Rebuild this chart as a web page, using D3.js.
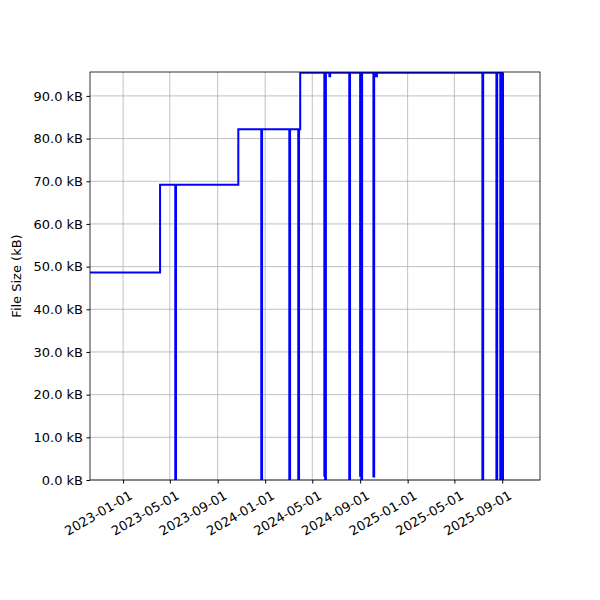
<!DOCTYPE html>
<html><head><meta charset="utf-8">
<script src="https://cdn.jsdelivr.net/npm/d3@7"></script>
<style>body{margin:0;background:#fff}text{font-family:"DejaVu Sans",sans-serif}</style>
</head><body><svg id="c" width="600" height="600"></svg>
<script>
// Step data: size (kB) from each date onward; 0 / dip values are short glitches
var dates = ["2022-10-01","2023-04-06","2023-05-15","2023-05-17","2023-05-18","2023-10-24",
  "2023-12-22","2023-12-24","2023-12-25","2024-03-03","2024-03-05","2024-03-06",
  "2024-03-26","2024-03-28","2024-03-29","2024-03-31",
  "2024-06-01","2024-06-03","2024-06-04","2024-06-03","2024-06-05","2024-06-06",
  "2024-06-14","2024-06-16","2024-08-04","2024-08-06","2024-08-07",
  "2024-09-01","2024-09-03","2024-09-04","2024-09-04","2024-09-06","2024-09-07",
  "2024-10-05","2024-10-07","2024-10-08","2024-10-12","2024-10-14",
  "2025-07-12","2025-07-14","2025-07-15","2025-08-17","2025-08-19","2025-08-20",
  "2025-08-27","2025-08-29","2025-08-30","2025-09-01","2025-09-03","2025-09-04"];
var sizes = [48.6,69.2,0,69.2,69.2,82.2,
  0,82.2,82.2,0,82.2,82.2,
  0,82.2,82.2,95.4,
  1,95.4,95.4,0,95.4,95.4,
  94.6,95.4,0,95.4,95.4,
  1,95.4,95.4,0,95.4,95.4,
  0.8,95.4,95.4,94.6,95.4,
  0,95.4,95.4,0,95.4,95.4,
  0,95.4,95.4,0,95.4,95.4];
var yTicks = [0,10,20,30,40,50,60,70,80,90];
var xTicks = ["2023-01-01","2023-05-01","2023-09-01","2024-01-01","2024-05-01","2024-09-01","2025-01-01","2025-05-01","2025-09-01"];

var parse = d3.timeParse("%Y-%m-%d"),
    margin = {top: 72, right: 60, bottom: 120, left: 90},
    width = 600 - margin.left - margin.right,
    height = 600 - margin.top - margin.bottom;

var x = d3.scaleTime().domain([parse("2022-10-08"), parse("2025-12-07")]).range([0, width]);
var y = d3.scaleLinear().domain([0, 95.6]).range([height, 0]);

var svg = d3.select("#c"),
    g = svg.append("g").attr("transform", "translate(" + margin.left + "," + margin.top + ")");

g.append("defs").append("clipPath").attr("id", "clip")
  .append("rect").attr("width", width).attr("height", height);

// grid
g.selectAll(".gx").data(xTicks).enter().append("line")
  .attr("x1", d => x(parse(d))).attr("x2", d => x(parse(d)))
  .attr("y1", 0).attr("y2", height).attr("stroke", "#b0b0b0").attr("stroke-width", 0.8);
g.selectAll(".gy").data(yTicks).enter().append("line")
  .attr("y1", d => y(d)).attr("y2", d => y(d))
  .attr("x1", 0).attr("x2", width).attr("stroke", "#b0b0b0").attr("stroke-width", 0.8);

var pts = dates.map((d, i) => [parse(d), sizes[i]]);
g.append("path").datum(pts)
  .attr("clip-path", "url(#clip)")
  .attr("fill", "none").attr("stroke", "blue").attr("stroke-width", 2)
  .attr("d", d3.line().x(d => x(d[0])).y(d => y(d[1])).curve(d3.curveStepAfter));

var fmt = d3.format(".1f");
var ya = g.append("g").call(d3.axisLeft(y).tickValues(yTicks).tickSize(3.5).tickPadding(3.5).tickFormat(d => fmt(d) + " kB"));
var xa = g.append("g").attr("transform", "translate(0," + height + ")")
  .call(d3.axisBottom(x).tickValues(xTicks.map(parse)).tickSize(3.5).tickPadding(3.5).tickFormat(d3.timeFormat("%Y-%m-%d")));
[ya, xa].forEach(a => { a.selectAll("text").attr("font-size", 13).attr("fill", "#000"); a.select(".domain").remove(); });
xa.selectAll("text").attr("text-anchor", "end").attr("dy", null).attr("y", 0)
  .attr("transform", "translate(4,8) rotate(-30)").attr("dy", "0.9em");

g.append("rect").attr("width", width).attr("height", height)
  .attr("fill", "none").attr("stroke", "#000").attr("stroke-width", 0.8);

svg.append("text").attr("transform", "translate(21," + (margin.top + height / 2) + ") rotate(-90)")
  .attr("text-anchor", "middle").attr("font-size", 13).text("File Size (kB)");
</script></body></html>
